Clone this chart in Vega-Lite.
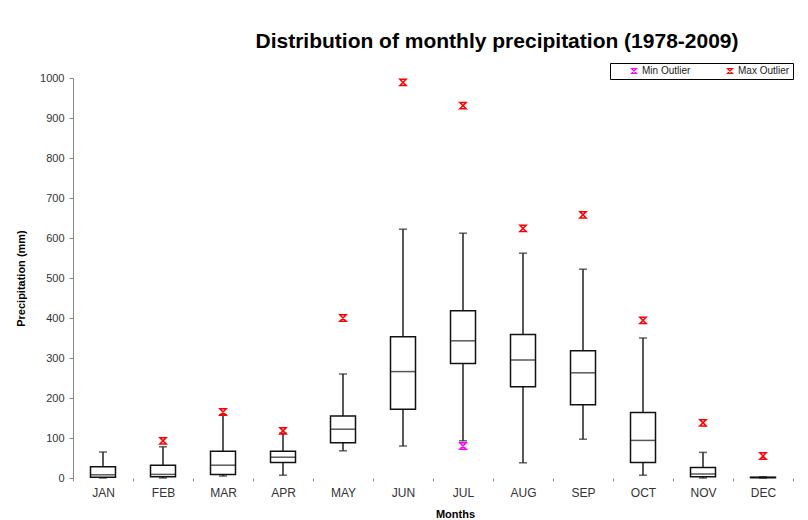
{
  "$schema": "https://vega.github.io/schema/vega-lite/v6.json",
  "width": 720,
  "height": 400,
  "autosize": "none",
  "padding": {"left": 73, "top": 78, "right": 15, "bottom": 42},
  "background": "white",
  "title": {
    "text": "Distribution of monthly precipitation (1978-2009)",
    "font": "Liberation Sans",
    "fontSize": 21,
    "fontWeight": "bold",
    "color": "#000000",
    "anchor": "middle",
    "frame": "group",
    "dx": 64,
    "offset": 11
  },
  "config": {"view": {"stroke": null}, "font": "Liberation Sans"},
  "datasets": {
    "stats": [
      {"month": "JAN", "min": 0, "q1": 2, "median": 8, "q3": 28, "max": 65},
      {"month": "FEB", "min": 0, "q1": 3, "median": 9, "q3": 32, "max": 78},
      {"month": "MAR", "min": 5, "q1": 9, "median": 32, "q3": 67, "max": 158},
      {"month": "APR", "min": 7, "q1": 39, "median": 52, "q3": 67, "max": 112},
      {"month": "MAY", "min": 68, "q1": 88, "median": 122, "q3": 155, "max": 260},
      {"month": "JUN", "min": 80, "q1": 172, "median": 266, "q3": 353, "max": 622},
      {"month": "JUL", "min": 93, "q1": 286, "median": 343, "q3": 418, "max": 612},
      {"month": "AUG", "min": 38, "q1": 228, "median": 295, "q3": 359, "max": 562},
      {"month": "SEP", "min": 97, "q1": 183, "median": 263, "q3": 318, "max": 522},
      {"month": "OCT", "min": 7, "q1": 39, "median": 94, "q3": 164, "max": 350},
      {"month": "NOV", "min": 0, "q1": 3, "median": 10, "q3": 26, "max": 64},
      {"month": "DEC", "min": 0, "q1": 1, "median": 1, "q3": 2, "max": 3}
    ],
    "outliers": [
      {"month": "FEB", "type": "Max Outlier", "value": 93},
      {"month": "MAR", "type": "Max Outlier", "value": 165},
      {"month": "APR", "type": "Max Outlier", "value": 118},
      {"month": "MAY", "type": "Max Outlier", "value": 400},
      {"month": "JUN", "type": "Max Outlier", "value": 989},
      {"month": "JUL", "type": "Max Outlier", "value": 931},
      {"month": "JUL", "type": "Min Outlier", "value": 80},
      {"month": "AUG", "type": "Max Outlier", "value": 624},
      {"month": "SEP", "type": "Max Outlier", "value": 658},
      {"month": "OCT", "type": "Max Outlier", "value": 394},
      {"month": "NOV", "type": "Max Outlier", "value": 138},
      {"month": "DEC", "type": "Max Outlier", "value": 55}
    ]
  },
  "encoding": {
    "x": {
      "field": "month",
      "type": "nominal",
      "sort": ["JAN","FEB","MAR","APR","MAY","JUN","JUL","AUG","SEP","OCT","NOV","DEC"],
      "scale": {"domain": ["JAN","FEB","MAR","APR","MAY","JUN","JUL","AUG","SEP","OCT","NOV","DEC"], "paddingInner": 0, "paddingOuter": 0},
      "axis": {
        "title": "Months",
        "titleFontSize": 11,
        "titleFontWeight": "bold",
        "titleColor": "#000000",
        "titleX": 382,
        "titleY": 39,
        "titleBaseline": "alphabetic",
        "labelAngle": 0,
        "domain": false,
        "ticks": true,
        "tickBand": "extent",
        "tickSize": 3,
        "tickColor": "#888888",
        "labelPadding": 6,
        "labelFontSize": 12,
        "labelColor": "#333333"
      }
    }
  },
  "layer": [
    {
      "data": {"name": "stats"},
      "mark": {"type": "rule", "color": "#222222", "strokeWidth": 1.5},
      "encoding": {
        "y": {
          "field": "min",
          "type": "quantitative",
          "scale": {"domain": [0, 1000], "nice": false},
          "axis": {
            "title": "Precipitation (mm)",
            "titleFontSize": 11,
            "titleFontWeight": "bold",
            "titleColor": "#000000",
            "titlePadding": 13,
            "values": [0,100,200,300,400,500,600,700,800,900,1000],
            "tickCount": 11,
            "format": "d",
            "labelOverlap": false,
            "grid": false,
            "domainColor": "#888888",
            "tickColor": "#888888",
            "tickSize": 4,
            "labelFontSize": 11,
            "labelColor": "#333333",
            "labelPadding": 5
          }
        },
        "y2": {"field": "max"}
      }
    },
    {
      "data": {"name": "stats"},
      "mark": {"type": "tick", "orient": "horizontal", "size": 8, "thickness": 1.5, "color": "#222222"},
      "encoding": {"y": {"field": "max", "type": "quantitative", "axis": {"values": [0,100,200,300,400,500,600,700,800,900,1000], "tickCount": 11, "labelOverlap": false}}}
    },
    {
      "data": {"name": "stats"},
      "mark": {"type": "tick", "orient": "horizontal", "size": 8, "thickness": 1.5, "color": "#222222"},
      "encoding": {"y": {"field": "min", "type": "quantitative", "axis": {"values": [0,100,200,300,400,500,600,700,800,900,1000], "tickCount": 11, "labelOverlap": false}}}
    },
    {
      "data": {"name": "stats"},
      "mark": {"type": "bar", "fill": "white", "stroke": "#111111", "strokeWidth": 1.5, "size": 25},
      "encoding": {
        "y": {"field": "q1", "type": "quantitative", "axis": {"values": [0,100,200,300,400,500,600,700,800,900,1000], "tickCount": 11, "labelOverlap": false}},
        "y2": {"field": "q3"}
      }
    },
    {
      "data": {"name": "stats"},
      "mark": {"type": "tick", "orient": "horizontal", "size": 25, "thickness": 1.5, "color": "#111111"},
      "encoding": {"y": {"field": "median", "type": "quantitative", "axis": {"values": [0,100,200,300,400,500,600,700,800,900,1000], "tickCount": 11, "labelOverlap": false}}}
    },
    {
      "data": {"name": "outliers"},
      "mark": {"type": "point", "shape": "M-1,-1H1L-1,1H1Z", "filled": false, "size": 40, "strokeWidth": 1.5, "opacity": 1},
      "encoding": {
        "y": {"field": "value", "type": "quantitative", "axis": {"values": [0,100,200,300,400,500,600,700,800,900,1000], "tickCount": 11, "labelOverlap": false}},
        "color": {
          "field": "type",
          "type": "nominal",
          "scale": {"domain": ["Min Outlier", "Max Outlier"], "range": ["#FF00FF", "#FF0000"]},
          "legend": {
            "title": null,
            "orient": "none",
            "legendX": 537,
            "legendY": -15,
            "direction": "horizontal",
            "strokeColor": "#000000",
            "padding": 3,
            "symbolOffset": 16,
            "columnPadding": 18,
            "symbolType": "M-1,-1H1L-1,1H1Z",
            "symbolSize": 25,
            "symbolStrokeWidth": 1.2,
            "labelFontSize": 10,
            "labelColor": "#222222",
            "labelOffset": 3
          }
        }
      }
    }
  ]
}
